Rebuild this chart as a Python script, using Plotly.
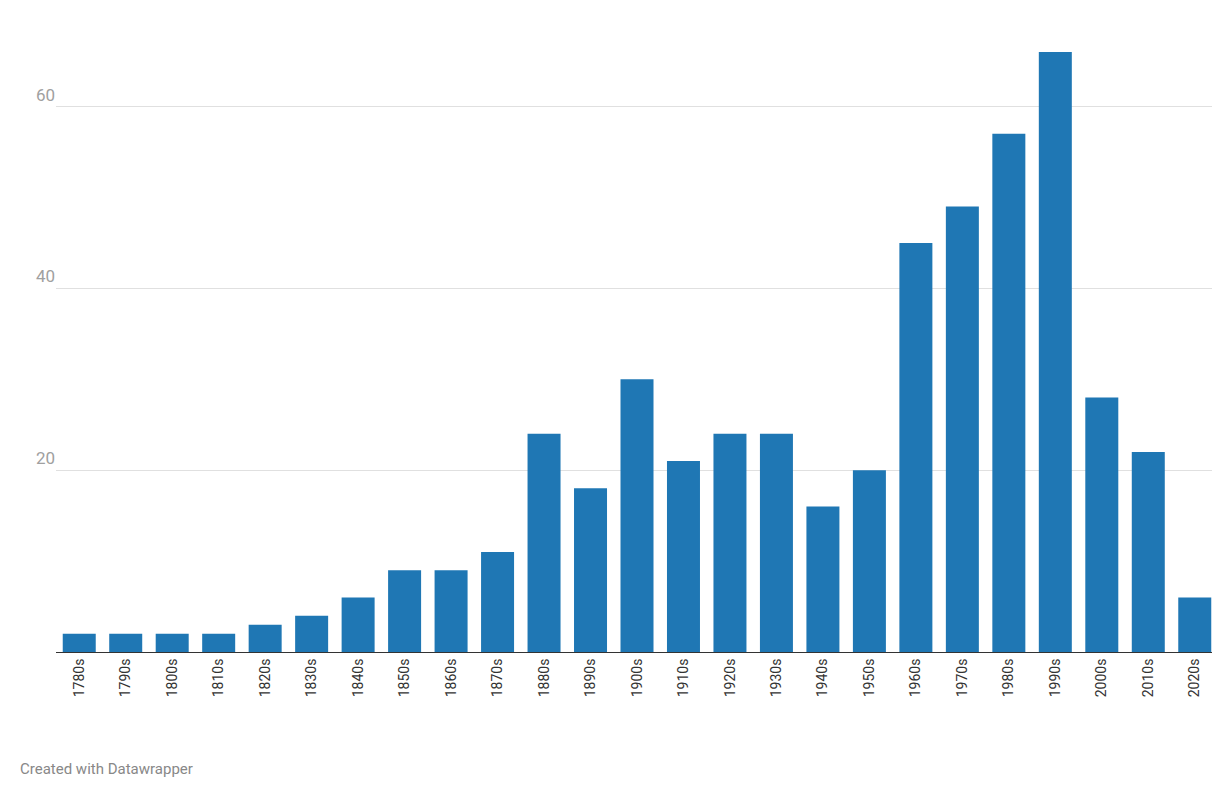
import plotly.graph_objects as go

decades = ["1780s", "1790s", "1800s", "1810s", "1820s", "1830s", "1840s", "1850s", "1860s",
           "1870s", "1880s", "1890s", "1900s", "1910s", "1920s", "1930s", "1940s", "1950s",
           "1960s", "1970s", "1980s", "1990s", "2000s", "2010s", "2020s"]
counts = [2, 2, 2, 2, 3, 4, 6, 9, 9, 11, 24, 18, 30, 21, 24, 24, 16, 20, 45, 49, 57, 66, 28, 22, 6]

fig = go.Figure(go.Bar(x=decades, y=counts, marker_color="#1f77b4", marker_line_width=0))

fig.update_layout(
    width=1220, height=786,
    margin=dict(l=48, r=10, t=44, b=142),
    plot_bgcolor="white", paper_bgcolor="white",
    bargap=0.29,
    showlegend=False,
    font=dict(family="Roboto, Arial, sans-serif"),
    xaxis=dict(tickangle=-90, tickfont=dict(size=14, color="#333"),
               showline=True, linecolor="#333", linewidth=1, ticks="", showgrid=False),
    yaxis=dict(range=[0, 66], tickvals=[20, 40, 60], gridcolor="#e0e0e0",
               tickfont=dict(size=17, color="#a0a0a0"), ticklabelposition="outside top",
               zeroline=False, showline=False),
    annotations=[dict(text="Created with Datawrapper", xref="paper", yref="paper",
                      x=-0.033, y=-0.195, xanchor="left", yanchor="middle", showarrow=False,
                      font=dict(size=15, color="#888"))],
)

fig.write_html("out.html")
